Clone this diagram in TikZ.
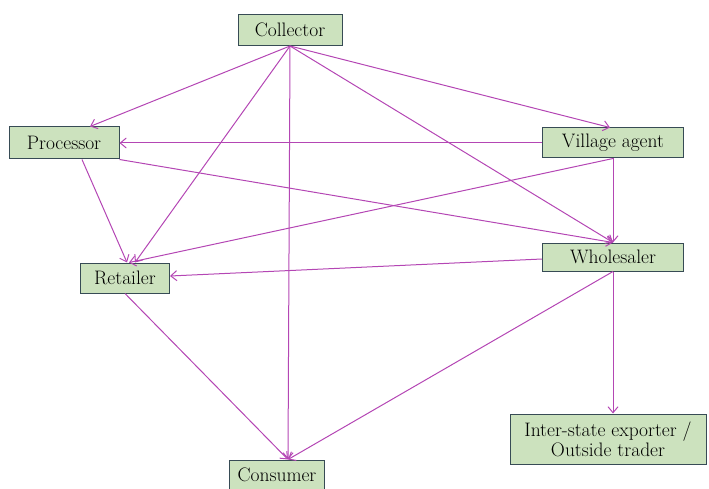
\documentclass[tikz,border=0pt]{standalone}
\usetikzlibrary{arrows.meta}
\definecolor{edgec}{RGB}{180,70,180}
\definecolor{boxfill}{RGB}{204,226,190}
\definecolor{boxdraw}{RGB}{55,75,85}
\begin{document}
\begin{tikzpicture}[x=1pt,y=-1pt,
  box/.style={draw=boxdraw,fill=boxfill,line width=1pt,inner sep=0pt,font=\fontsize{19.5}{20}\selectfont,align=center},
  link/.style={draw=edgec,line width=1pt,-{Straight Barb[length=6pt,width=10pt]}}]
\useasboundingbox (0,0) rectangle (709,489);
\node[box,minimum width=104pt,minimum height=31pt] (col) at (290,30) {Collector};
\node[box,minimum width=110pt,minimum height=32pt] (proc) at (64,143) {Processor};
\node[box,minimum width=141pt,minimum height=30pt] (vil) at (613,143) {Village agent};
\node[box,minimum width=89pt,minimum height=30pt] (ret) at (125,278) {Retailer};
\node[box,minimum width=141pt,minimum height=28pt] (who) at (613,257) {Wholesaler};
\node[box,minimum width=196pt,minimum height=50pt] (int) at (608,439) {Inter-state exporter /\\ Outside trader};
\node[box,minimum width=95pt,minimum height=30pt] (con) at (277,475) {Consumer};
\draw[link] (col.south) -- ([xshift=26pt]proc.north);
\draw[link] (col.south) -- ([xshift=10pt]ret.north);
\draw[link] (col.south) -- ([xshift=11pt]con.north);
\draw[link] (col.south) -- (who.north);
\draw[link] (col.south) -- ([xshift=-3pt]vil.north);
\draw[link] (vil.west) -- (proc.east);
\draw[link] (vil.south) -- ([xshift=4pt]ret.north);
\draw[link] (vil.south) -- (who.north);
\draw[link] ([xshift=18pt]proc.south) -- ([xshift=2pt]ret.north);
\draw[link] (proc.south east) -- (who.north);
\draw[link] ([yshift=-2pt]who.west) -- ([yshift=2pt]ret.east);
\draw[link] (who.south) -- ([xshift=11pt]con.north);
\draw[link] (who.south) -- (who.south |- int.north);
\draw[link] (ret.south) -- ([xshift=11pt]con.north);
\end{tikzpicture}
\end{document}
